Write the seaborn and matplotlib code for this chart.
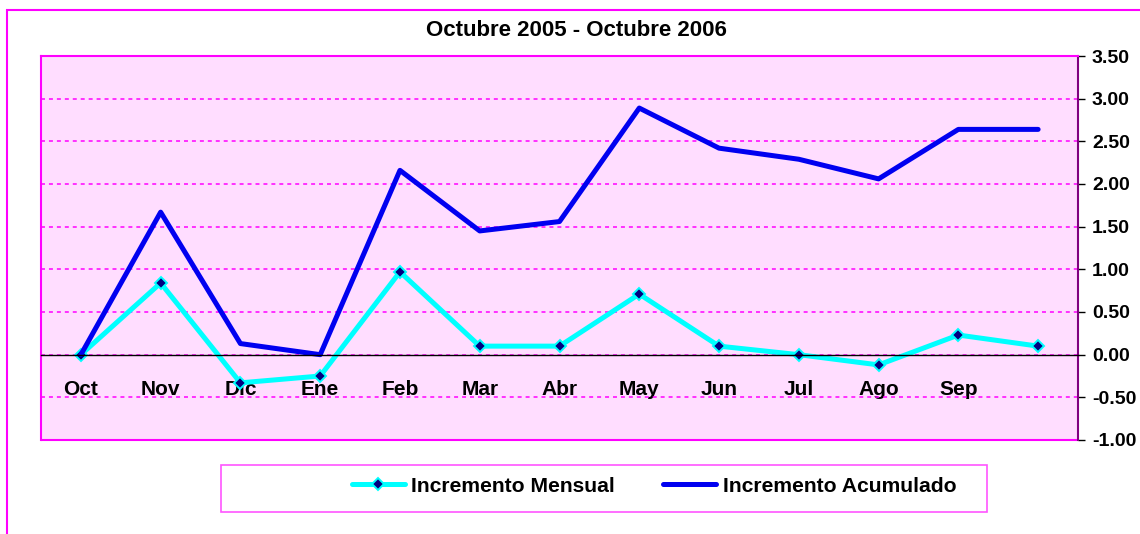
import numpy as np
import pandas as pd
import matplotlib.pyplot as plt
import seaborn as sns
from matplotlib.patches import Rectangle

# data
months = ['Oct', 'Nov', 'Dic', 'Ene', 'Feb', 'Mar', 'Abr', 'May', 'Jun', 'Jul', 'Ago', 'Sep', '']
mensual = [0.00, 0.84, -0.33, -0.25, 0.97, 0.10, 0.10, 0.71, 0.10, 0.00, -0.12, 0.23, 0.10]
acumulado = [0.00, 1.67, 0.13, 0.00, 2.16, 1.45, 1.56, 2.89, 2.42, 2.29, 2.06, 2.64, 2.64]
y_ticks = [-1.0, -0.5, 0.0, 0.5, 1.0, 1.5, 2.0, 2.5, 3.0, 3.5]
title = 'Octubre 2005 - Octubre 2006'
series_names = ['Incremento Mensual', 'Incremento Acumulado']

MAGENTA = '#FF00FF'

sns.set_style('white')
plt.rcParams['font.family'] = ['Liberation Sans', 'DejaVu Sans']
plt.rcParams['font.weight'] = 'bold'
plt.rcParams['text.color'] = 'black'
plt.rcParams['xtick.color'] = 'black'
plt.rcParams['ytick.color'] = 'black'

df = pd.DataFrame({'pos': range(len(months)), 'mensual': mensual, 'acumulado': acumulado})

fig = plt.figure(figsize=(11.4, 5.34), dpi=100)
ax = fig.add_axes([41 / 1140, 1 - 440 / 534, (1078 - 41) / 1140, 384 / 534])
ax.set_facecolor('#FFDDFF')

sns.lineplot(data=df, x='pos', y='mensual', ax=ax, color='#00FFFF', lw=3.6,
             marker='D', markersize=6.5, markerfacecolor='#000080',
             markeredgecolor='#00FFFF', markeredgewidth=1.4, label=series_names[0])
sns.lineplot(data=df, x='pos', y='acumulado', ax=ax, color='#0000F0', lw=3.6,
             label=series_names[1])

handles, labels = ax.get_legend_handles_labels()
if ax.get_legend() is not None:
    ax.get_legend().remove()

ax.set_xlim(-0.5, len(months) - 0.5)
ax.set_ylim(y_ticks[0], y_ticks[-1])
ax.set_xlabel('')
ax.set_ylabel('')

# y axis on the right
ax.yaxis.tick_right()
ax.set_yticks(y_ticks)
ax.set_yticklabels([f'{v:.2f}' for v in y_ticks], fontsize=14, fontweight='bold')
ax.tick_params(axis='y', direction='out', length=5, width=1, color='black', pad=5)

# category axis crossing at zero
ax.spines['bottom'].set_position(('data', 0))
ax.spines['bottom'].set_color('black')
ax.spines['bottom'].set_linewidth(1)
ax.set_xticks(np.arange(-0.5, len(months), 1))
ax.set_xticklabels([])
ax.set_xticks(range(len(months)), minor=True)
ax.set_xticklabels(months, minor=True, fontsize=15, fontweight='bold')
ax.tick_params(axis='x', which='major', direction='inout', length=11, width=1, color='#404040')
ax.tick_params(axis='x', which='minor', length=0, pad=18)

ax.grid(axis='y', color=MAGENTA, linestyle=(0, (2.6, 2.6)), linewidth=1.1)
ax.set_axisbelow(True)

for side in ['left', 'top']:
    ax.spines[side].set_color(MAGENTA)
    ax.spines[side].set_linewidth(1.5)
ax.spines['right'].set_color('#800080')
ax.spines['right'].set_linewidth(1.5)
ax.axhline(y_ticks[0], color=MAGENTA, lw=1.5, clip_on=False)

fig.text(576 / 1140, 1 - 30 / 534, title, ha='center', va='center',
         fontsize=16, fontweight='bold')

# chart frame and legend box
fig.patches.append(Rectangle((7 / 1140, -0.1), 1.2, 1 - 10 / 534 + 0.1, transform=fig.transFigure,
                             fill=False, edgecolor=MAGENTA, lw=1.5))
fig.patches.append(Rectangle((221 / 1140, 1 - 512 / 534), 766 / 1140, 47 / 534,
                             transform=fig.transFigure, fill=False, edgecolor='#FF55FF', lw=1.2))

fig.legend(handles, labels, loc='center left', bbox_to_anchor=(352 / 1140, 1 - 486 / 534),
           ncol=2, frameon=False, borderaxespad=0, borderpad=0,
           handlelength=2.5, columnspacing=2.3, handletextpad=0.3,
           prop={'weight': 'bold', 'size': 15.2})

fig.savefig('out.png', dpi=100)
